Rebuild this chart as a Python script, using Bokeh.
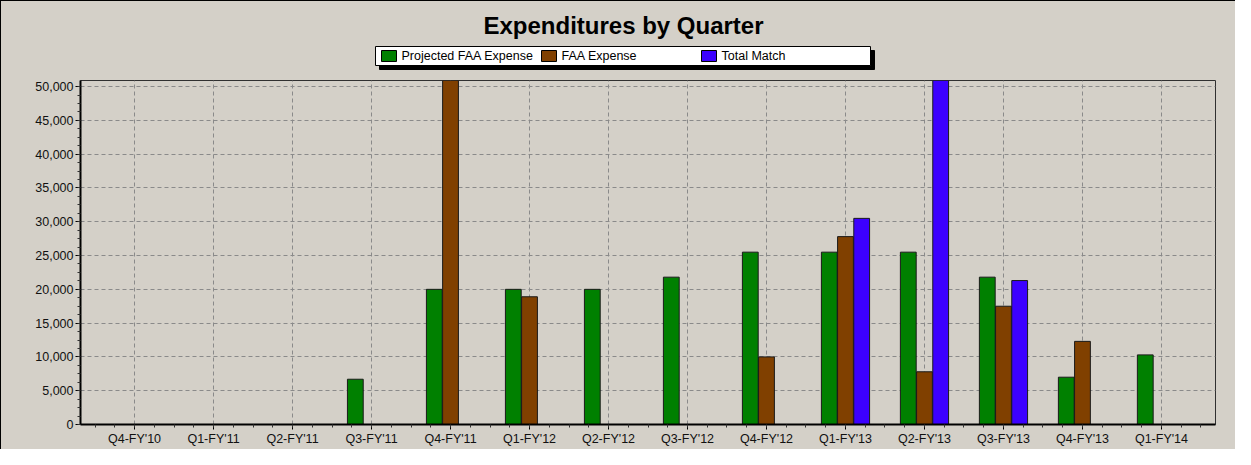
import numpy as np
from bokeh.plotting import figure
from bokeh.layouts import column
from bokeh.models import (ColumnDataSource, Range1d, FixedTicker, SingleIntervalTicker,
                          NumeralTickFormatter)
from bokeh.core.properties import value
from bokeh.transform import dodge
from bokeh.embed import file_html
from bokeh.resources import INLINE

# ---- data ----
quarters = ["Q4-FY'10", "Q1-FY'11", "Q2-FY'11", "Q3-FY'11", "Q4-FY'11", "Q1-FY'12",
            "Q2-FY'12", "Q3-FY'12", "Q4-FY'12", "Q1-FY'13", "Q2-FY'13", "Q3-FY'13",
            "Q4-FY'13", "Q1-FY'14"]
projected_faa = [None, None, None, 6700, 20000, 20000, 20000, 21800, 25500, 25500, 25500, 21800, 7000, 10300]
faa_expense = [None, None, None, None, 55000, 18900, None, None, 10000, 27800, 7800, 17500, 12300, None]
total_match = [None, None, None, None, None, None, None, None, None, 30500, 56000, 21300, None, None]
series_names = ["Projected FAA Expense", "FAA Expense", "Total Match"]
series_colors = ["#008000", "#804000", "#3c00ff"]
chart_title = "Expenditures by Quarter"


def arr(v):
    return np.array([np.nan if x is None else x for x in v], dtype=float)


src = ColumnDataSource(dict(
    x=np.arange(len(quarters)),
    proj=arr(projected_faa),
    faa=arr(faa_expense),
    match=arr(total_match),
))

BG = "#d4d0c8"
FONT = "Liberation Sans"
W = 1234
HH = 73     # header height
MH = 375    # main chart height
BL, BR = 79, 20   # side borders shared by both figures (frames align)

# ---------------- header: title + legend ----------------
# data units == canvas pixels (x measured from canvas left, y from canvas top)
h = figure(width=W, height=HH, output_backend="svg", toolbar_location=None,
           x_range=Range1d(BL, W - BR), y_range=Range1d(HH, 0),
           x_axis_type=None, y_axis_type=None)
h.min_border_left = BL
h.min_border_right = BR
h.min_border_top = 0
h.min_border_bottom = 0
h.background_fill_color = BG
h.border_fill_color = BG
h.outline_line_color = None
h.grid.visible = False

h.text(x=[622], y=[24], text=[chart_title], text_align="center",
       text_baseline="alphabetic", text_font=value(FONT), text_font_size="24px",
       text_font_style="bold", text_color="black")

# legend box with drop shadow
lx0, lx1, ly0, ly1 = 374, 869, 45, 64
h.quad(left=[lx0 + 4], right=[lx1 + 4], top=[ly0 + 4], bottom=[ly1 + 4],
       fill_color="black", line_color="black")
h.quad(left=[lx0], right=[lx1], top=[ly0], bottom=[ly1],
       fill_color="white", line_color="black", line_width=1)
pitch = 160
sq_x = [lx0 + 6 + i * pitch for i in range(len(series_names))]
h.quad(left=sq_x, right=[s + 15 for s in sq_x], top=[49] * 3, bottom=[60] * 3,
       fill_color=series_colors, line_color="black", line_width=1)
h.text(x=[s + 20 for s in sq_x], y=[54.5] * 3, text=series_names,
       text_align="left", text_baseline="middle", text_font=value(FONT),
       text_font_size="12.5px", text_color="black")

# ---------------- main chart ----------------
p = figure(width=W, height=MH, output_backend="svg", toolbar_location=None,
           x_range=Range1d(-0.684, len(quarters) - 1 + 0.684),
           y_range=Range1d(0, 50900))
p.min_border_left = BL
p.min_border_top = 6
p.min_border_right = BR
p.min_border_bottom = 25
p.background_fill_color = BG
p.border_fill_color = BG
p.outline_line_color = "#303030"
p.outline_line_width = 1

w = 0.2
offs = [-0.205, 0.0, 0.205]
for col, off, color, name in zip(["proj", "faa", "match"], offs, series_colors, series_names):
    p.vbar(x=dodge("x", off, range=p.x_range), top=col, width=w, bottom=0,
           source=src, fill_color=color, line_color="#1a1a1a", line_width=1, name=name)

xt = FixedTicker(ticks=list(range(len(quarters))),
                 minor_ticks=list(np.arange(-0.5, len(quarters) - 0.25, 0.25)))
p.xaxis.ticker = xt
p.xaxis.major_label_overrides = {i: q for i, q in enumerate(quarters)}
p.yaxis.ticker = SingleIntervalTicker(interval=5000, num_minor_ticks=4)
p.yaxis.formatter = NumeralTickFormatter(format="0,0")
for ax in (p.xaxis[0], p.yaxis[0]):
    ax.axis_line_color = "black"
    ax.axis_line_width = 2
    ax.major_tick_out = 5
    ax.major_tick_in = 0
    ax.minor_tick_out = 3
    ax.minor_tick_in = 0
    ax.major_tick_line_color = "black"
    ax.minor_tick_line_color = "#333333"
    ax.major_label_text_font = FONT
    ax.major_label_text_font_size = "12.5px"
    ax.major_label_text_color = "#111111"
    ax.major_label_standoff = 2

p.xgrid.ticker = xt
for g in (p.xgrid[0], p.ygrid[0]):
    g.grid_line_color = "#8a8a8a"
    g.grid_line_dash = "4 3"
    g.grid_line_width = 1

layout = column(h, p, spacing=0,
                styles={"border-top": "1px solid black", "border-left": "1px solid black",
                        "background-color": BG})

open("out.html", "w").write(file_html(layout, INLINE))
